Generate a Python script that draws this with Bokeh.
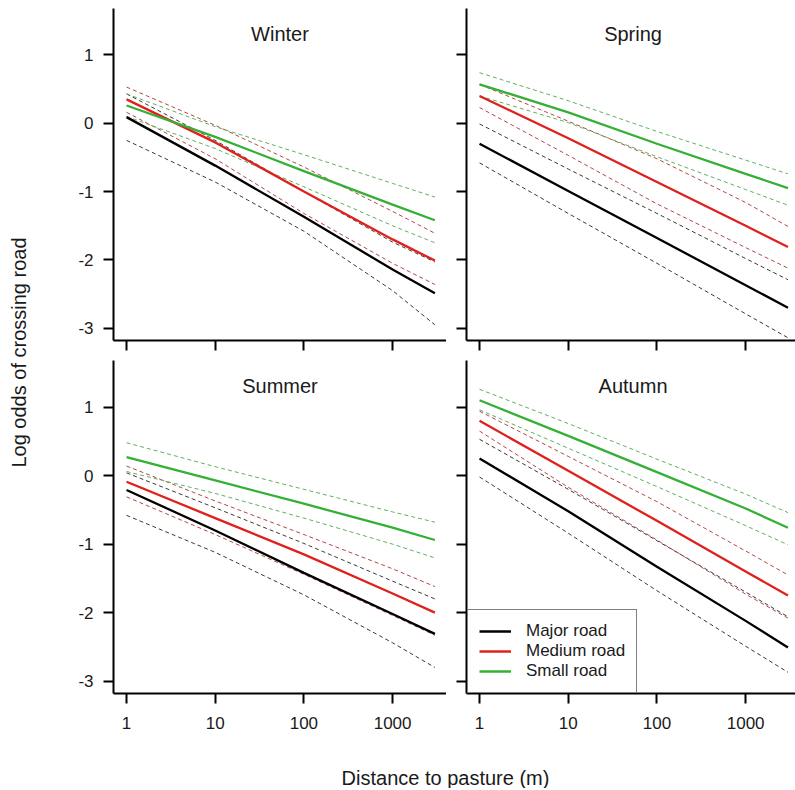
import math
from bokeh.plotting import figure
from bokeh.models import Range1d, FixedTicker, Label, Legend, LegendItem, PrintfTickFormatter
from bokeh.layouts import row, column
from bokeh.embed import file_html
from bokeh.resources import INLINE

# ---------------- data ----------------
dist = [1, 10, 100, 1000, 3000]
x_ticks = [1, 10, 100, 1000]
y_ticks = [-3, -2, -1, 0, 1]
seasons = ["Winter", "Spring", "Summer", "Autumn"]
road_labels = ["Major road", "Medium road", "Small road"]

winter_major = [0.09, -0.62, -1.37, -2.14, -2.49]
winter_major_hi = [0.43, -0.25, -1.00, -1.74, -2.03]
winter_major_lo = [-0.25, -0.86, -1.58, -2.45, -2.95]
winter_medium = [0.35, -0.28, -1.00, -1.70, -2.01]
winter_medium_hi = [0.53, -0.03, -0.64, -1.29, -1.61]
winter_medium_lo = [0.16, -0.52, -1.32, -2.05, -2.36]
winter_small = [0.26, -0.20, -0.70, -1.19, -1.42]
winter_small_hi = [0.43, -0.05, -0.46, -0.88, -1.08]
winter_small_lo = [0.10, -0.37, -0.93, -1.50, -1.75]

spring_major = [-0.30, -0.99, -1.68, -2.37, -2.70]
spring_major_hi = [-0.01, -0.67, -1.32, -1.98, -2.29]
spring_major_lo = [-0.58, -1.32, -2.05, -2.79, -3.14]
spring_medium = [0.40, -0.22, -0.86, -1.50, -1.81]
spring_medium_hi = [0.57, 0.03, -0.52, -1.16, -1.51]
spring_medium_lo = [0.23, -0.47, -1.18, -1.82, -2.12]
spring_small = [0.57, 0.16, -0.30, -0.74, -0.95]
spring_small_hi = [0.74, 0.33, -0.12, -0.54, -0.74]
spring_small_lo = [0.40, 0.01, -0.49, -0.97, -1.20]

summer_major = [-0.21, -0.80, -1.42, -2.02, -2.31]
summer_major_hi = [0.04, -0.47, -0.99, -1.54, -1.80]
summer_major_lo = [-0.58, -1.12, -1.74, -2.44, -2.80]
summer_medium = [-0.09, -0.62, -1.15, -1.72, -2.00]
summer_medium_hi = [0.14, -0.37, -0.86, -1.36, -1.62]
summer_medium_lo = [-0.31, -0.86, -1.44, -2.04, -2.33]
summer_small = [0.27, -0.07, -0.41, -0.76, -0.94]
summer_small_hi = [0.48, 0.13, -0.20, -0.53, -0.68]
summer_small_lo = [0.06, -0.26, -0.62, -1.00, -1.20]

autumn_major = [0.25, -0.52, -1.33, -2.12, -2.51]
autumn_major_hi = [0.53, -0.20, -0.95, -1.70, -2.06]
autumn_major_lo = [-0.02, -0.84, -1.68, -2.49, -2.87]
autumn_medium = [0.80, 0.07, -0.66, -1.40, -1.75]
autumn_medium_hi = [0.94, 0.28, -0.38, -1.10, -1.45]
autumn_medium_lo = [0.65, -0.17, -0.94, -1.73, -2.08]
autumn_small = [1.10, 0.58, 0.05, -0.48, -0.76]
autumn_small_hi = [1.26, 0.76, 0.24, -0.27, -0.54]
autumn_small_lo = [0.96, 0.40, -0.16, -0.73, -1.01]

panel_data = {
    "Winter": [(winter_major, winter_major_lo, winter_major_hi),
               (winter_medium, winter_medium_lo, winter_medium_hi),
               (winter_small, winter_small_lo, winter_small_hi)],
    "Spring": [(spring_major, spring_major_lo, spring_major_hi),
               (spring_medium, spring_medium_lo, spring_medium_hi),
               (spring_small, spring_small_lo, spring_small_hi)],
    "Summer": [(summer_major, summer_major_lo, summer_major_hi),
               (summer_medium, summer_medium_lo, summer_medium_hi),
               (summer_small, summer_small_lo, summer_small_hi)],
    "Autumn": [(autumn_major, autumn_major_lo, autumn_major_hi),
               (autumn_medium, autumn_medium_lo, autumn_medium_hi),
               (autumn_small, autumn_small_lo, autumn_small_hi)],
}

# ---------------- styles ----------------
FONT = "Liberation Sans"
TXT = "#1a1a1a"
solid_colors = ["#000000", "#e0201c", "#35b035"]
dash_colors = ["#3a3a3a", "#b04848", "#5fb05f"]

Y_RANGE = (-3.18, 1.68)
LEFT_XR = (10 ** -0.147, 10 ** 3.608)
RIGHT_XR = (10 ** -0.147, 10 ** 3.562)

YLAB_W = 40
LEFT_MB = 73
FRAME_L_W = 333
GAP = 20
FRAME_R_W = 329
TOP_MB = 8
TOP_FRAME_H = 332
BOT_FRAME_H = 333
BOT_MB = 46
XLAB_H = 50


def style_axes(p, xlabels, ylabels):
    for ax in p.axis:
        ax.axis_line_width = 2
        ax.axis_line_color = "black"
        ax.major_tick_line_width = 2
        ax.major_tick_line_color = "black"
        ax.major_tick_out = 10
        ax.major_tick_in = 0
        ax.minor_tick_out = 0
        ax.minor_tick_in = 0
        ax.major_label_text_font = FONT
        ax.major_label_text_font_size = "17px"
        ax.major_label_text_color = TXT
    p.xaxis.ticker = FixedTicker(ticks=x_ticks)
    p.yaxis.ticker = FixedTicker(ticks=y_ticks)
    p.xaxis.major_label_standoff = 13
    p.yaxis.major_label_standoff = 10
    if xlabels:
        p.xaxis.formatter = PrintfTickFormatter(format="%d")
    else:
        p.xaxis.major_label_overrides = {t: "" for t in x_ticks}
    if ylabels:
        p.yaxis.formatter = PrintfTickFormatter(format="%d")
    else:
        p.yaxis.major_label_overrides = {t: "" for t in y_ticks}


def make_panel(season, left, top):
    frame_w = FRAME_L_W if left else FRAME_R_W
    frame_h = TOP_FRAME_H if top else BOT_FRAME_H
    mb_left = LEFT_MB if left else GAP
    mb_bottom = GAP if top else BOT_MB
    mb_top = TOP_MB if top else 0
    xr = LEFT_XR if left else RIGHT_XR
    p = figure(width=mb_left + frame_w, height=mb_top + frame_h + mb_bottom,
               x_axis_type="log", x_range=Range1d(*xr), y_range=Range1d(*Y_RANGE),
               toolbar_location=None, output_backend="svg",
               min_border_left=mb_left, min_border_right=0,
               min_border_top=mb_top, min_border_bottom=mb_bottom)
    p.outline_line_color = None
    p.grid.visible = False
    style_axes(p, xlabels=not top, ylabels=left)

    solids = []
    for (mid, lo, hi), dc in zip(panel_data[season], dash_colors):
        p.line(dist, hi, line_color=dc, line_width=1, line_dash="4 3")
        p.line(dist, lo, line_color=dc, line_width=1, line_dash="4 3")
    for (mid, lo, hi), sc in zip(panel_data[season], solid_colors):
        solids.append(p.line(dist, mid, line_color=sc, line_width=2.3))

    xc = 10 ** ((math.log10(xr[0]) + math.log10(LEFT_XR[1])) / 2)
    p.add_layout(Label(x=xc, y=1.31, text=season, text_align="center",
                       text_baseline="middle", text_font=FONT,
                       text_font_size="20px", text_color=TXT))
    return p, solids


p1, _ = make_panel("Winter", True, True)
p2, _ = make_panel("Spring", False, True)
p3, _ = make_panel("Summer", True, False)
p4, s4 = make_panel("Autumn", False, False)

legend = Legend(items=[LegendItem(label=lab, renderers=[r]) for lab, r in zip(road_labels, s4)],
                location=(1, 0))
legend.border_line_color = "black"
legend.border_line_width = 1
legend.padding = 11
legend.spacing = 0
legend.margin = 0
legend.label_height = 20
legend.glyph_height = 20
legend.glyph_width = 32
legend.label_standoff = 15
legend.label_text_font = FONT
legend.label_text_font_size = "17px"
legend.label_text_color = TXT
legend.background_fill_alpha = 1
p4.add_layout(legend)

total_w = LEFT_MB + FRAME_L_W + GAP + FRAME_R_W
top_h = TOP_MB + TOP_FRAME_H + GAP
bot_h = BOT_FRAME_H + BOT_MB
total_h = top_h + bot_h + XLAB_H - 1

xlab = figure(width=total_w, height=XLAB_H - 1, x_range=Range1d(0, total_w),
              y_range=Range1d(0, XLAB_H - 1), toolbar_location=None, output_backend="svg",
              min_border=0, x_axis_location=None, y_axis_location=None)
xlab.outline_line_color = None
xlab.grid.visible = False
xlab.add_layout(Label(x=445 - YLAB_W, y=XLAB_H - 1 - 38, text="Distance to pasture (m)",
                      text_align="center", text_baseline="middle", text_font=FONT,
                      text_font_size="20px", text_color=TXT))

ylab = figure(width=YLAB_W, height=total_h, x_range=Range1d(0, YLAB_W),
              y_range=Range1d(0, total_h), toolbar_location=None, output_backend="svg",
              min_border=0, x_axis_location=None, y_axis_location=None)
ylab.outline_line_color = None
ylab.grid.visible = False
ylab.add_layout(Label(x=18.5, y=total_h - 352, text="Log odds of crossing road",
                      angle=math.pi / 2, text_align="center", text_baseline="middle",
                      text_font=FONT, text_font_size="20px", text_color=TXT))

layout = row(ylab, column(row(p1, p2), row(p3, p4), xlab))

open("out.html", "w").write(file_html(layout, INLINE))
